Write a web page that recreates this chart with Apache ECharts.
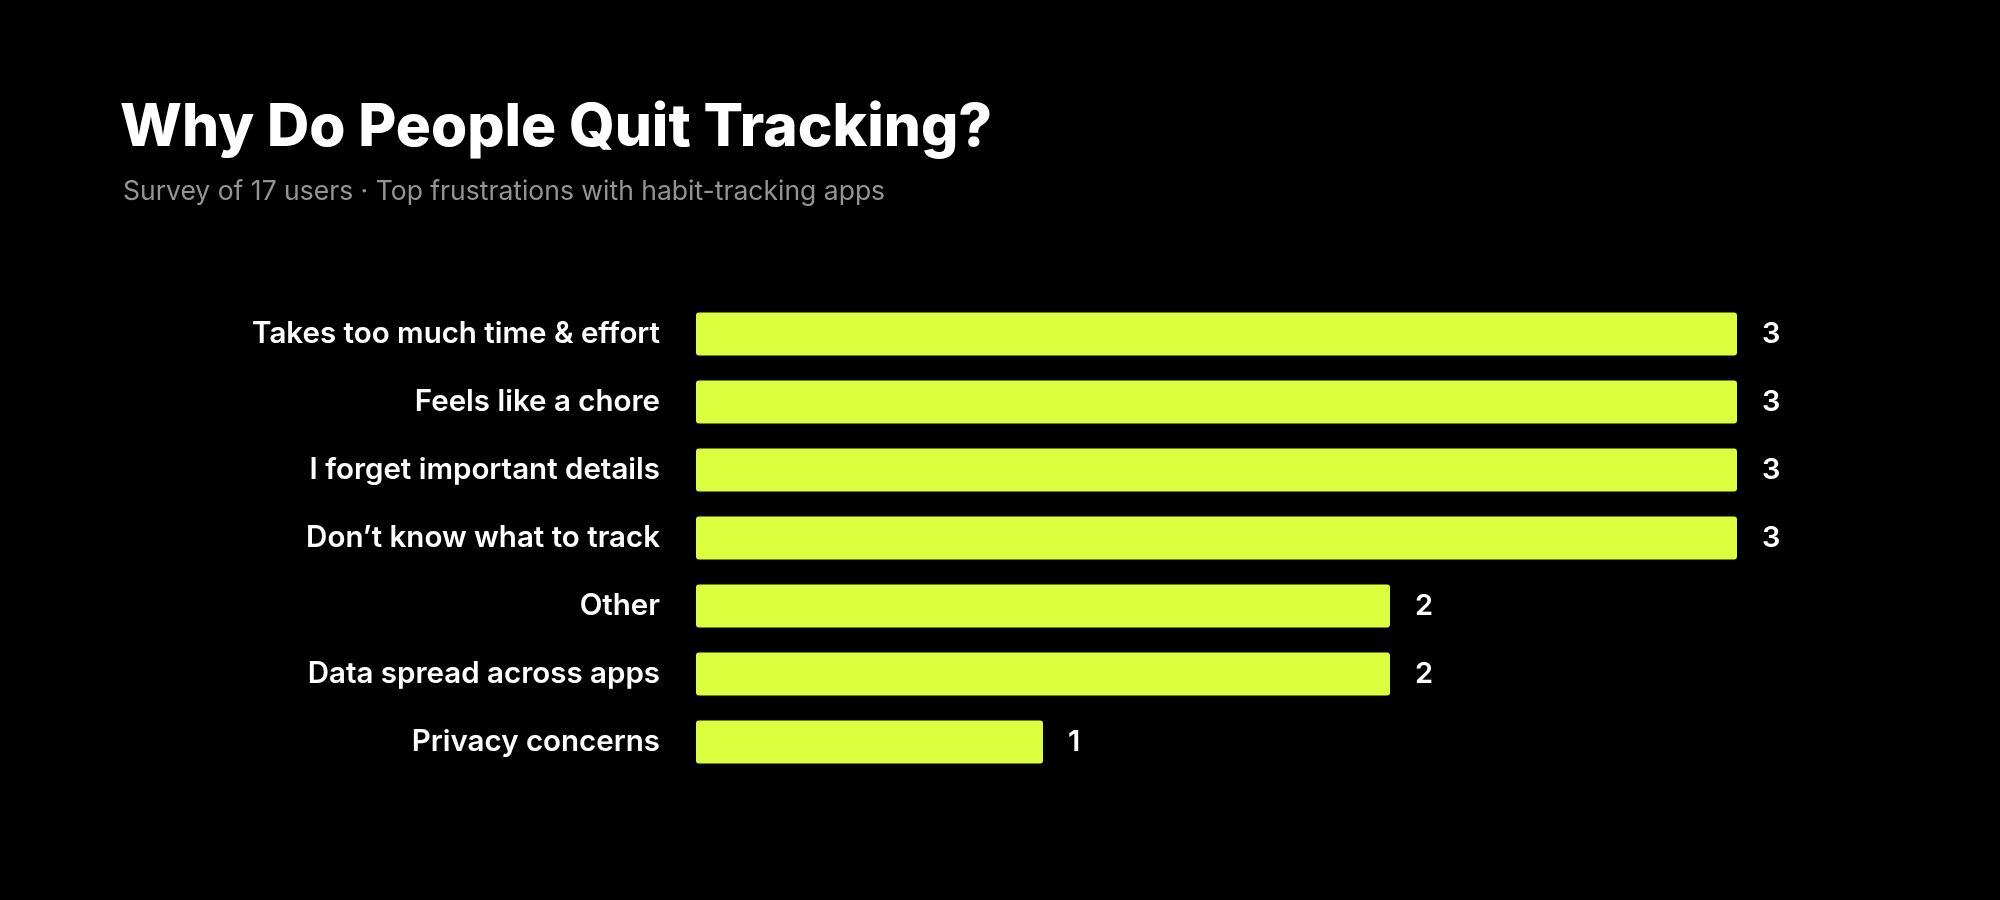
<!DOCTYPE html>
<html lang="en">
<head>
    <meta charset="utf-8">
    <title>Why Do People Quit Tracking?</title>
    <script src="https://cdn.jsdelivr.net/npm/echarts@6/dist/echarts.min.js"></script>
    <style>
        html, body { margin: 0; padding: 0; background: #000; }
        #chart { width: 2000px; height: 900px; }
    </style>
</head>
<body>
    <div id="chart"></div>
    <script>
        // 응답 항목과 응답 수
        const reasons = [
            'Takes too much time & effort',
            'Feels like a chore',
            'I forget important details',
            'Don\u2019t know what to track',
            'Other',
            'Data spread across apps',
            'Privacy concerns'
        ];
        const counts = [3, 3, 3, 3, 2, 2, 1];

        const titleText = 'Why Do People Quit Tracking?';
        const subtitleText = 'Survey of 17 users \u00b7 Top frustrations with habit-tracking apps';

        const font = 'Inter, "Noto Sans", sans-serif';
        const chart = echarts.init(document.getElementById('chart'));

        chart.setOption({
            backgroundColor: '#000000',
            animation: false,
            title: [{
                text: titleText,
                left: 115,
                top: 94,
                textStyle: { color: '#ffffff', fontSize: 58.5, fontWeight: 800, fontFamily: font }
            }, {
                text: subtitleText,
                left: 118,
                top: 174,
                textStyle: { color: '#949494', fontSize: 26.5, fontWeight: 400, fontFamily: font }
            }],
            grid: { left: 696, right: 263, top: 300, bottom: 124, containLabel: false },
            xAxis: {
                type: 'value',
                min: 0,
                max: 3,
                show: false
            },
            yAxis: {
                type: 'category',
                data: reasons,
                inverse: true,
                axisLine: { show: false },
                axisTick: { show: false },
                axisLabel: {
                    color: '#ffffff',
                    fontSize: 29.5,
                    fontWeight: 600,
                    fontFamily: font,
                    margin: 36,
                    padding: [5, 0, 0, 0]
                }
            },
            series: [{
                type: 'bar',
                data: counts,
                barWidth: 43,
                itemStyle: { color: '#dbff3d', borderRadius: 3 },
                label: {
                    show: true,
                    position: 'right',
                    distance: 25,
                    color: '#ffffff',
                    fontSize: 29,
                    fontWeight: 600,
                    fontFamily: font,
                    padding: [5, 0, 0, 0]
                }
            }]
        });
    </script>
</body>
</html>
